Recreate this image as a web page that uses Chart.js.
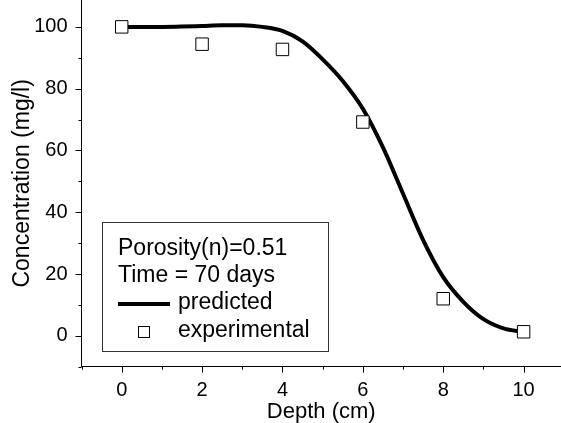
<!DOCTYPE html>
<html>
<head>
  <meta charset="UTF-8" />
  <title>Concentration vs Depth</title>
  <script src="https://cdn.jsdelivr.net/npm/chart.js"></script>
  <style>
    html, body { margin: 0; padding: 0; background: #ffffff; }
    .chart-container { position: relative; width: 561px; height: 423px; }
  </style>
</head>
<body>
  <div class="chart-container">
    <canvas id="depthChart"></canvas>
  </div>

  <script>
    // measured concentrations
    const depthExperimental = [0, 2, 4, 6, 8, 10];
    const concExperimental = [100, 94.4, 92.7, 69.2, 12, 1.3];

    // model curve
    const depthPredicted = [0, 0.5, 1, 1.5, 2, 2.5, 3, 3.5, 4, 4.5, 5, 5.5, 6, 6.5, 7, 7.5, 8, 8.5, 9, 9.5, 10];
    const concPredicted = [100, 100, 100, 100.1, 100.3, 100.5, 100.5, 100, 98.7, 95.3, 89.5, 82.5, 73.5, 61, 46, 31, 19, 11, 5.4, 2.4, 1.2];

    const xMajor = [0, 2, 4, 6, 8, 10];
    const xMinor = [-1, 1, 3, 5, 7, 9];
    const yMajor = [0, 20, 40, 60, 80, 100];
    const yMinor = [-10, 10, 30, 50, 70, 90];

    const seriesNames = ['predicted', 'experimental'];
    const noteLines = ['Porosity(n)=0.51', 'Time = 70 days'];
    const xTitle = 'Depth (cm)';
    const yTitle = 'Concentration (mg/l)';

    const FONT = 'Arial, "Liberation Sans", sans-serif';
    Chart.defaults.font.family = FONT;
    Chart.defaults.color = '#000000';

    // no extra room for edge labels, the axes run to the canvas edges
    function noEdgePadding(scale) {
      scale.paddingTop = 0;
      scale.paddingBottom = 0;
      scale.paddingLeft = 0;
      scale.paddingRight = 0;
    }

    // outward tick marks, major and minor, drawn off the scales
    const tickMarks = {
      id: 'tickMarks',
      afterDraw(chart) {
        const { ctx, chartArea } = chart;
        const xs = chart.scales.x, ys = chart.scales.y;
        ctx.save();
        ctx.strokeStyle = '#000';
        ctx.lineWidth = 1;
        ctx.beginPath();
        const xt = (v, len) => {
          const px = Math.round(xs.getPixelForValue(v)) + 0.5;
          ctx.moveTo(px, chartArea.bottom);
          ctx.lineTo(px, chartArea.bottom + len);
        };
        const yt = (v, len) => {
          const py = Math.round(ys.getPixelForValue(v)) + 0.5;
          ctx.moveTo(chartArea.left, py);
          ctx.lineTo(chartArea.left - len, py);
        };
        xMajor.forEach(v => xt(v, 6));
        xMinor.forEach(v => xt(v, 3));
        yMajor.forEach(v => yt(v, 6));
        yMinor.forEach(v => yt(v, 3));
        ctx.stroke();
        ctx.restore();
      }
    };

    // boxed legend with the run parameters
    const noteBox = {
      id: 'noteBox',
      afterDraw(chart) {
        const ctx = chart.ctx;
        ctx.save();
        ctx.strokeStyle = '#333';
        ctx.lineWidth = 1;
        ctx.strokeRect(102.5, 222.5, 226, 129);

        ctx.fillStyle = '#000';
        ctx.font = '23px ' + FONT;
        ctx.textBaseline = 'middle';
        ctx.textAlign = 'left';
        ctx.fillText(noteLines[0], 118, 249);
        ctx.fillText(noteLines[1], 118, 276);
        ctx.fillText(seriesNames[0], 178, 303);
        ctx.fillText(seriesNames[1], 178, 331);

        ctx.strokeStyle = '#000';
        ctx.lineWidth = 4;
        ctx.beginPath();
        ctx.moveTo(118, 304);
        ctx.lineTo(170, 304);
        ctx.stroke();

        ctx.lineWidth = 1;
        ctx.fillStyle = '#fff';
        ctx.fillRect(138.5, 326.5, 11, 11);
        ctx.strokeRect(138.5, 326.5, 11, 11);
        ctx.restore();
      }
    };

    new Chart(document.getElementById('depthChart'), {
      type: 'scatter',
      data: {
        datasets: [
          {
            label: seriesNames[1],
            data: depthExperimental.map((d, i) => ({ x: d, y: concExperimental[i] })),
            pointStyle: 'rect',
            pointRadius: 8.8,
            pointBackgroundColor: '#ffffff',
            pointBorderColor: '#000000',
            pointBorderWidth: 1,
            showLine: false,
            order: 0
          },
          {
            label: seriesNames[0],
            data: depthPredicted.map((d, i) => ({ x: d, y: concPredicted[i] })),
            showLine: true,
            borderColor: '#000000',
            borderWidth: 4,
            pointRadius: 0,
            cubicInterpolationMode: 'monotone',
            order: 1
          }
        ]
      },
      options: {
        responsive: true,
        maintainAspectRatio: false,
        animation: false,
        layout: { padding: 0, autoPadding: false },
        plugins: {
          legend: { display: false },
          tooltip: { enabled: false }
        },
        scales: {
          x: {
            type: 'linear',
            min: -1,
            max: 10.93,
            afterFit(scale) { scale.height = 56.3; noEdgePadding(scale); },
            afterBuildTicks(scale) { scale.ticks = xMajor.map(v => ({ value: v })); },
            grid: { display: false },
            border: { display: true, color: '#000', width: 1 },
            ticks: { font: { size: 20 }, padding: 4, maxRotation: 0 },
            title: { display: true, text: xTitle, font: { size: 22 }, padding: { top: 0, bottom: -2 } }
          },
          y: {
            type: 'linear',
            min: -10,
            max: 108.7,
            afterFit(scale) { scale.width = 81.5; noEdgePadding(scale); },
            afterBuildTicks(scale) { scale.ticks = yMajor.map(v => ({ value: v })); },
            grid: { display: false },
            border: { display: true, color: '#000', width: 1 },
            ticks: { font: { size: 20 }, padding: 6 },
            title: { display: true, text: yTitle, font: { size: 23 }, padding: { top: 9, bottom: 0 } }
          }
        }
      },
      plugins: [tickMarks, noteBox]
    });
  </script>
</body>
</html>
